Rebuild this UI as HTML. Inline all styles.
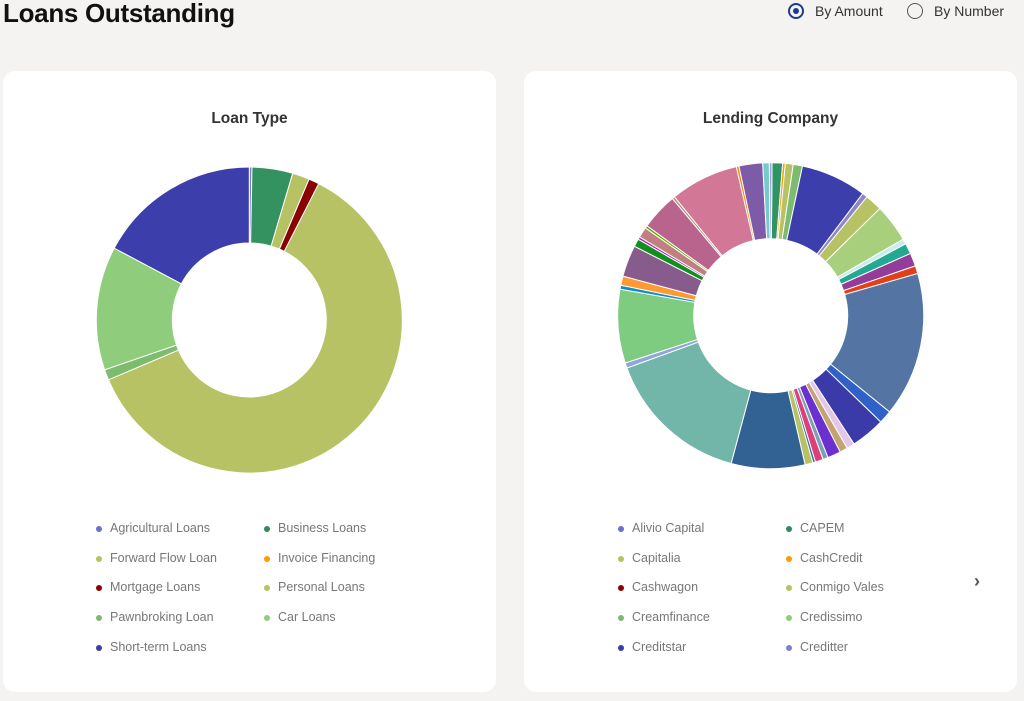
<!DOCTYPE html>
<html><head><meta charset="utf-8">
<style>
html,body{margin:0;padding:0;}
body{width:1024px;height:701px;background:#f4f3f1;position:relative;overflow:hidden;font-family:"Liberation Sans",sans-serif;}
h1{position:absolute;left:3px;top:-2px;margin:0;font-size:26px;font-weight:bold;color:#111;letter-spacing:-0.3px;}
.radio{position:absolute;top:3px;font-size:14px;color:#333;}
.radio i{position:absolute;left:-1px;top:0px;width:16px;height:16px;border:1.5px solid #555;border-radius:50%;box-sizing:border-box;}
.radio i.on{border-color:#1d3b8a;border-width:2px;}
.radio i.on:after{content:"";position:absolute;left:3px;top:3px;width:6px;height:6px;border-radius:50%;background:#1d3b8a;}
.radio span{position:absolute;left:26px;top:0;white-space:nowrap;}
.card{position:absolute;top:71px;width:493px;height:621px;background:#fff;border-radius:12px;}
.title{position:absolute;top:110px;width:493px;text-align:center;font-size:15.5px;font-weight:bold;color:#333;}
.lg{position:absolute;font-size:12.5px;color:#777;white-space:nowrap;}
.lg b{position:absolute;left:-14px;top:5px;width:6px;height:6px;border-radius:50%;}
svg{position:absolute;left:0;top:0;}
</style></head><body>
<h1>Loans Outstanding</h1>
<div class="radio" style="left:789px"><i class="on"></i><span>By Amount</span></div>
<div class="radio" style="left:908px"><i></i><span>By Number</span></div>
<div class="card" style="left:3px"></div>
<div class="card" style="left:524px"></div>
<div class="title" style="left:3px">Loan Type</div>
<div class="title" style="left:524px">Lending Company</div>
<svg id="s" width="1024" height="701"></svg>
<div id="legends"></div>
<div style="position:absolute;left:974px;top:571px;font-size:18px;color:#555;font-weight:bold;">&#8250;</div>
<script>
var s=document.getElementById('s');
function arc(cx,cy,R,r,a0,a1,col){
 function p(rad,a){a=(a-90)*Math.PI/180;return (cx+rad*Math.cos(a)).toFixed(2)+','+(cy+rad*Math.sin(a)).toFixed(2);}
 var l=(a1-a0)>180?1:0;
 var d='M'+p(R,a0)+'A'+R+','+R+' 0 '+l+' 1 '+p(R,a1)+'L'+p(r,a1)+'A'+r+','+r+' 0 '+l+' 0 '+p(r,a0)+'Z';
 var e=document.createElementNS('http://www.w3.org/2000/svg','path');
 e.setAttribute('d',d);e.setAttribute('fill',col);e.setAttribute('stroke','#fff');e.setAttribute('stroke-width','1');
 s.appendChild(e);
}
function donut(cx,cy,list){for(var i=1;i<list.length;i++){arc(cx,cy,153,77,list[i-1][0],list[i][0],list[i-1][1]);} }
donut(249.3,320,[[0,'#7b7fd0'],[1,'#33925f'],[16.5,'#b6c264'],[23,'#8b0000'],[27,'#b6c264'],[247,'#7dbb6f'],[251,'#8fcc7c'],[298,'#3c3fab'],[360,'']]);
donut(770.7,315.7,[[0.5,'#2f9464'],[4.5,'#ff9900'],[5.5,'#b6c264'],[8.5,'#7dbb6f'],[12,'#3c3fab'],[37,'#8e86c6'],[39,'#b6c264'],[45.5,'#a8cf7c'],[60,'#c6eef0'],[62,'#25a891'],[66,'#933c9a'],[71,'#e0401a'],[74,'#5474a4'],[129,'#2f61c8'],[134,'#3a3ba8'],[147,'#e3c6ea'],[150,'#c4a46e'],[153,'#6d30d0'],[158,'#7aa0b8'],[160,'#dd3f7a'],[163,'#3b6ea8'],[164,'#b6c264'],[167,'#316293'],[195,'#71b6a8'],[250,'#8ea6d8'],[252,'#7ecc80'],[280,'#0a8fc8'],[281.5,'#ff9a33'],[285,'#875c8c'],[297,'#11901e'],[300,'#c020c0'],[301,'#c08080'],[305,'#66aa00'],[306,'#b8648c'],[320,'#b8906e'],[321,'#d27896'],[347,'#ff8800'],[348,'#7e5ba8'],[357,'#77cacc'],[359.5,'#a0a0e0'],[360.5,'']]);
var L=[[110,528,'#6d6fcc','Agricultural Loans'],[278,528,'#2f8a5e','Business Loans'],[110,558,'#b6c264','Forward Flow Loan'],[278,558,'#ff9900','Invoice Financing'],[110,587,'#8b0000','Mortgage Loans'],[278,587,'#b6c264','Personal Loans'],[110,617,'#7dbb6f','Pawnbroking Loan'],[278,617,'#8fcc7c','Car Loans'],[110,647,'#3c3fab','Short-term Loans'],
[632,528,'#6d6fcc','Alivio Capital'],[800,528,'#2f8a5e','CAPEM'],[632,558,'#b6c264','Capitalia'],[800,558,'#ff9900','CashCredit'],[632,587,'#8b0000','Cashwagon'],[800,587,'#b6c264','Conmigo Vales'],[632,617,'#7dbb6f','Creamfinance'],[800,617,'#8fcc7c','Credissimo'],[632,647,'#3c3fab','Creditstar'],[800,647,'#7b7fd0','Creditter']];
var h='';L.forEach(function(x){h+='<div class="lg" style="left:'+x[0]+'px;top:'+(x[1]-7)+'px"><b style="background:'+x[2]+'"></b>'+x[3]+'</div>';});
document.getElementById('legends').innerHTML=h;
</script>
</body></html>
